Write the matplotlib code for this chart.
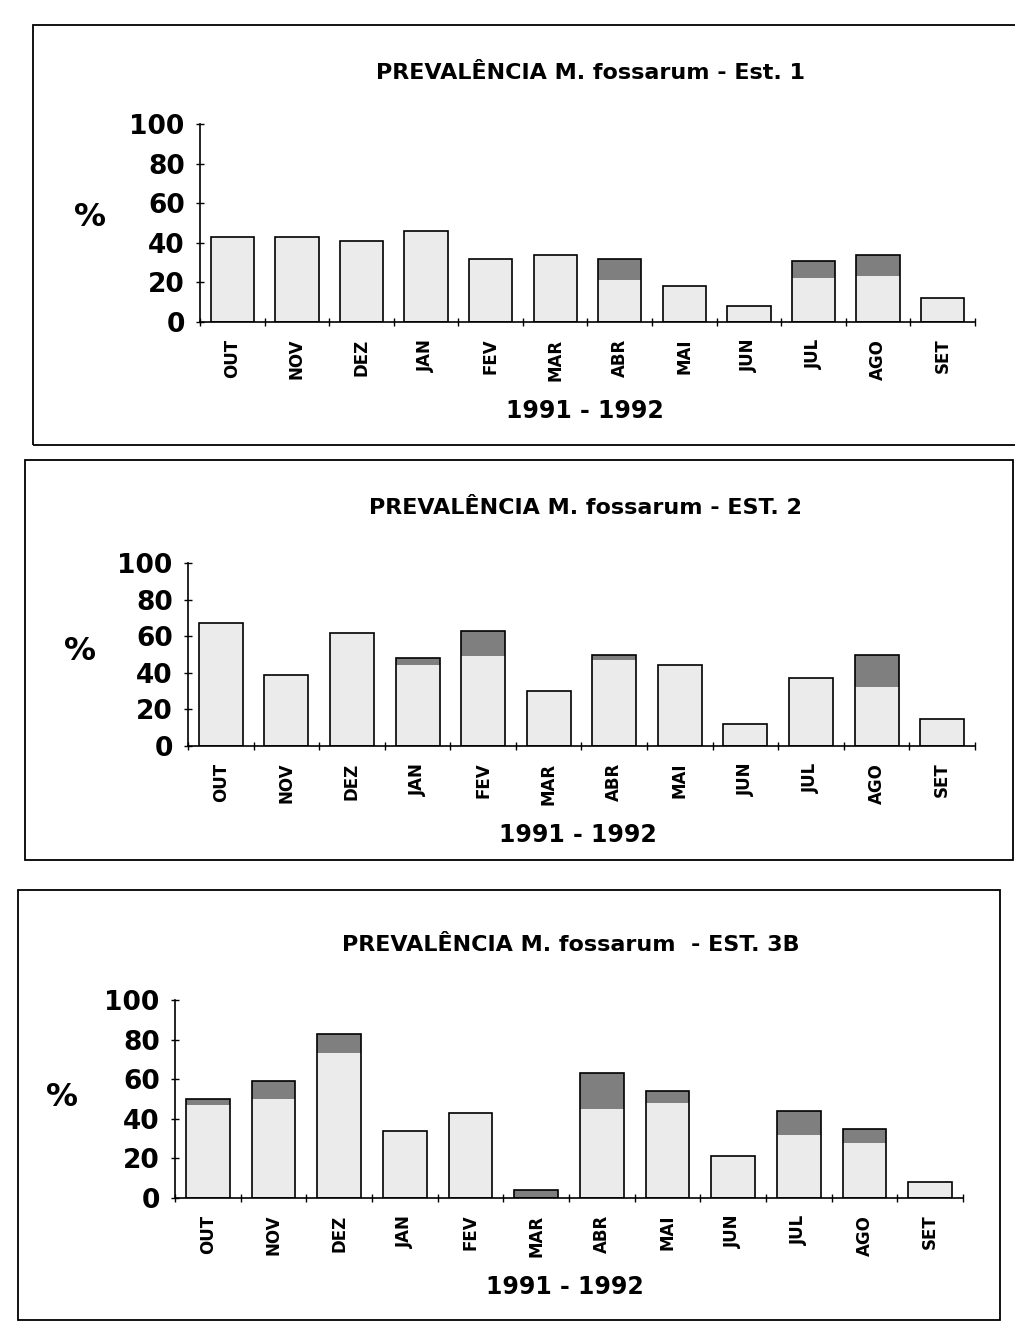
import matplotlib.pyplot as plt
import numpy as np
from matplotlib.patches import Rectangle

months = ['OUT', 'NOV', 'DEZ', 'JAN', 'FEV', 'MAR', 'ABR', 'MAI', 'JUN', 'JUL', 'AGO', 'SET']
years = '1991 - 1992'
y_ticks = [0, 20, 40, 60, 80, 100]

# prevalencia total (%) e inicio da parte escura de cada barra
est1_total = [43, 43, 41, 46, 32, 34, 32, 18, 8, 31, 34, 12]
est1_dark = [43, 43, 41, 46, 32, 34, 21, 18, 8, 22, 23, 12]

est2_total = [67, 39, 62, 48, 63, 30, 50, 44, 12, 37, 50, 15]
est2_dark = [67, 39, 62, 44, 49, 30, 47, 44, 12, 37, 32, 15]

est3_total = [50, 59, 83, 34, 43, 4, 63, 54, 21, 44, 35, 8]
est3_dark = [47, 50, 73, 34, 43, 0, 45, 48, 21, 32, 28, 8]

titles = ['PREVALÊNCIA M. fossarum - Est. 1',
          'PREVALÊNCIA M. fossarum - EST. 2',
          'PREVALÊNCIA M. fossarum  - EST. 3B']

W, H = 1015, 1324
fig = plt.figure(figsize=(W / 100, H / 100), dpi=100)
fig.patch.set_facecolor('white')
plt.rcParams['font.family'] = 'DejaVu Sans'
plt.rcParams['font.weight'] = 'bold'


def fx(px):
    return px / W


def fy(py):
    return 1 - py / H


def panel(rect, total, dark, title, title_xy, pct_xy, year_xy, box):
    # rect em pixels: esquerda, topo(100), direita, base(0)
    l, t, r, b = rect
    ax = fig.add_axes([fx(l), fy(b), fx(r - l), (b - t) / H])
    x = np.arange(len(months))
    total = np.array(total)
    dark = np.array(dark)
    ax.bar(x, dark, width=0.67, color='#ebebeb', edgecolor='none')
    ax.bar(x, total - dark, bottom=dark, width=0.67, color='#7f7f7f', edgecolor='none')
    ax.bar(x, total, width=0.67, fill=False, edgecolor='black', linewidth=1.2)
    ax.set_xlim(-0.5, 11.5)
    ax.set_ylim(0, 100)
    ax.spines['top'].set_visible(False)
    ax.spines['right'].set_visible(False)
    ax.spines['left'].set_linewidth(1.2)
    ax.spines['bottom'].set_linewidth(1.2)
    ax.set_yticks(y_ticks)
    ax.set_yticklabels([str(v) for v in y_ticks], fontweight='bold', fontsize=19)
    ax.tick_params(axis='y', direction='inout', length=6, width=1, pad=8)
    ax.set_xticks(x)
    ax.set_xticklabels(months, rotation=90, fontweight='bold', fontsize=12)
    ax.tick_params(axis='x', which='major', length=0, pad=12)
    ax.set_xticks(np.arange(-0.5, 12, 1), minor=True)
    ax.tick_params(axis='x', which='minor', direction='inout', length=6, width=1)
    ax.set_facecolor('none')

    fig.text(fx(title_xy[0]), fy(title_xy[1]), title, fontweight='bold',
             fontsize=16, ha='center', va='center')
    fig.text(fx(pct_xy[0]), fy(pct_xy[1]), '%', fontweight='bold',
             fontsize=23, ha='center', va='center')
    fig.text(fx(year_xy[0]), fy(year_xy[1]), years, fontweight='bold',
             fontsize=17, ha='center', va='center')

    bl, bt, br, bb = box
    fig.add_artist(Rectangle((fx(bl), fy(bb)), fx(br - bl), (bb - bt) / H,
                             transform=fig.transFigure, fill=False,
                             edgecolor='black', linewidth=1.3))


panel((200, 124, 975, 322), est1_total, est1_dark, titles[0],
      (590, 73), (90, 218), (585, 411), (33, 25, 1030, 445))
panel((188, 563, 975, 746), est2_total, est2_dark, titles[1],
      (585, 508), (80, 652), (578, 835), (25, 460, 1013, 860))
panel((175, 1000, 963, 1198), est3_total, est3_dark, titles[2],
      (571, 945), (62, 1098), (565, 1287), (18, 890, 1000, 1320))

fig.savefig('out.png', dpi=100, facecolor='white')
